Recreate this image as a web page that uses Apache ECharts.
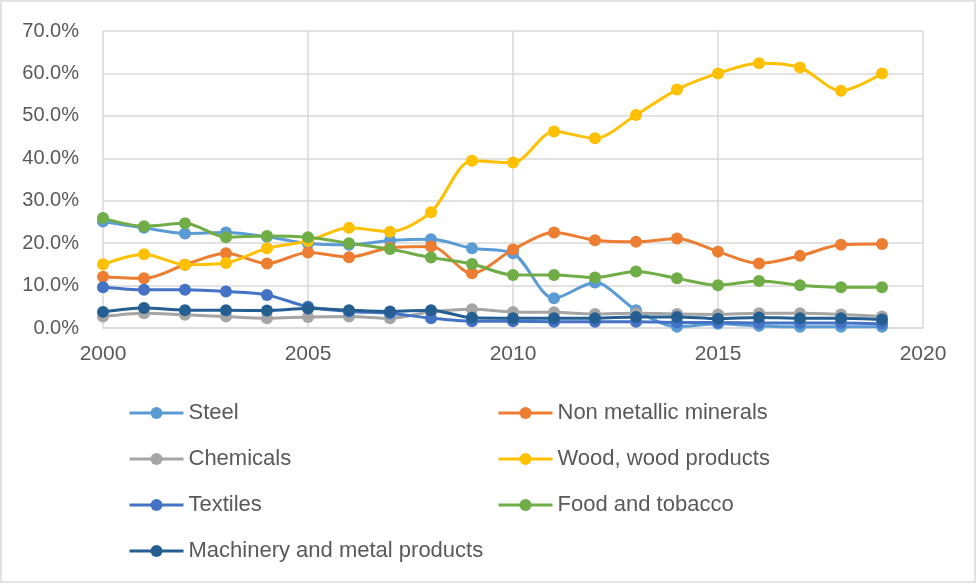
<!DOCTYPE html>
<html>
<head>
<meta charset="utf-8">
<title>Share by industry</title>
<script src="https://cdn.jsdelivr.net/npm/echarts@6/dist/echarts.min.js"></script>
<style>
  html, body { margin: 0; padding: 0; background: #ffffff; }
  #chart { width: 977px; height: 584px; }
</style>
</head>
<body>
<div id="chart"></div>
<script>
// Years on the horizontal axis
const years = [2000, 2001, 2002, 2003, 2004, 2005, 2006, 2007, 2008, 2009,
               2010, 2011, 2012, 2013, 2014, 2015, 2016, 2017, 2018, 2019];

// Share of each industry, in percent
const steel       = [25.1, 23.6, 22.3, 22.5, 21.5, 19.9, 19.6, 20.6, 20.9, 18.8, 17.6, 7.0, 10.7, 4.2, 0.3, 1.0, 0.5, 0.3, 0.3, 0.3];
const nonMetallic = [12.1, 11.7, 14.9, 17.6, 15.2, 17.8, 16.7, 18.9, 19.2, 12.9, 18.5, 22.5, 20.7, 20.3, 21.1, 18.0, 15.2, 17.0, 19.6, 19.8];
const chemicals   = [2.7, 3.5, 3.1, 2.7, 2.3, 2.6, 2.7, 2.3, 3.8, 4.4, 3.8, 3.7, 3.3, 3.5, 3.3, 3.2, 3.5, 3.5, 3.2, 2.7];
const wood        = [15.0, 17.4, 14.9, 15.3, 18.8, 20.5, 23.6, 22.7, 27.3, 39.4, 39.0, 46.3, 44.7, 50.2, 56.2, 60.0, 62.4, 61.4, 55.9, 60.0];
const textiles    = [9.6, 9.0, 9.0, 8.6, 7.8, 5.0, 3.9, 3.5, 2.3, 1.6, 1.6, 1.5, 1.5, 1.5, 1.3, 1.3, 1.2, 1.2, 1.2, 1.0];
const food        = [25.9, 24.0, 24.7, 21.4, 21.7, 21.4, 20.0, 18.6, 16.6, 15.1, 12.5, 12.5, 11.9, 13.3, 11.7, 10.1, 11.1, 10.1, 9.6, 9.6];
const machinery   = [3.8, 4.7, 4.2, 4.2, 4.1, 4.6, 4.2, 3.9, 4.2, 2.4, 2.3, 2.3, 2.3, 2.6, 2.6, 2.2, 2.5, 2.3, 2.3, 2.0];

// Axis ticks
const xTicks = { min: 2000, max: 2020, step: 5 };
const yTicks = { min: 0, max: 70, step: 10 };

const seriesDefs = [
  { name: 'Steel', values: steel, color: '#5B9BD5' },
  { name: 'Non metallic minerals', values: nonMetallic, color: '#ED7D31' },
  { name: 'Chemicals', values: chemicals, color: '#A5A5A5' },
  { name: 'Wood, wood products', values: wood, color: '#FFC000' },
  { name: 'Textiles', values: textiles, color: '#4472C4' },
  { name: 'Food and tobacco', values: food, color: '#70AD47' },
  { name: 'Machinery and metal products', values: machinery, color: '#255E91' }
];

const FONT = "'Liberation Sans', Arial, sans-serif";
const TEXT = '#595959';
const GRID = '#D9D9D9';

const legendBase = {
  orient: 'vertical',
  top: 397,
  itemWidth: 54,
  itemHeight: 15,
  itemGap: 24,
  lineStyle: { width: 3 },
  textStyle: { color: TEXT, fontFamily: FONT, fontSize: 22, lineHeight: 22 },
  selectedMode: false
};

const chart = echarts.init(document.getElementById('chart'), null, { renderer: 'canvas' });

chart.setOption({
  backgroundColor: '#ffffff',
  animation: false,
  graphic: [{
    type: 'rect',
    shape: { x: 1, y: 1, width: 974, height: 581 },
    style: { fill: 'none', stroke: GRID, lineWidth: 1.5 },
    silent: true,
    z: -1
  }],
  grid: { left: 103, right: 54, top: 31, bottom: 256, containLabel: false },
  xAxis: {
    type: 'value',
    min: xTicks.min, max: xTicks.max, interval: xTicks.step,
    axisLine: { show: true, lineStyle: { color: GRID, width: 1.5 } },
    axisTick: { show: false },
    splitLine: { show: true, lineStyle: { color: GRID, width: 1.5 } },
    axisLabel: {
      color: TEXT, fontFamily: FONT, fontSize: 21, margin: 16,
      formatter: v => String(v)
    }
  },
  yAxis: {
    type: 'value',
    min: yTicks.min, max: yTicks.max, interval: yTicks.step,
    axisLine: { show: false },
    axisTick: { show: false },
    splitLine: { show: true, lineStyle: { color: GRID, width: 1.5 } },
    axisLabel: {
      color: TEXT, fontFamily: FONT, fontSize: 20, margin: 24,
      formatter: v => v.toFixed(1) + '%'
    }
  },
  legend: [
    Object.assign({}, legendBase, {
      left: 123,
      data: ['Steel', 'Chemicals', 'Textiles', 'Machinery and metal products']
    }),
    Object.assign({}, legendBase, {
      left: 492,
      data: ['Non metallic minerals', 'Wood, wood products', 'Food and tobacco']
    })
  ],
  series: seriesDefs.map(s => ({
    name: s.name,
    type: 'line',
    smooth: 0.3,
    symbol: 'circle',
    symbolSize: 12,
    showAllSymbol: true,
    clip: false,
    color: s.color,
    lineStyle: { color: s.color, width: 3 },
    itemStyle: { color: s.color },
    emphasis: { disabled: true },
    data: years.map((y, i) => [y, s.values[i]])
  }))
});
</script>
</body>
</html>
